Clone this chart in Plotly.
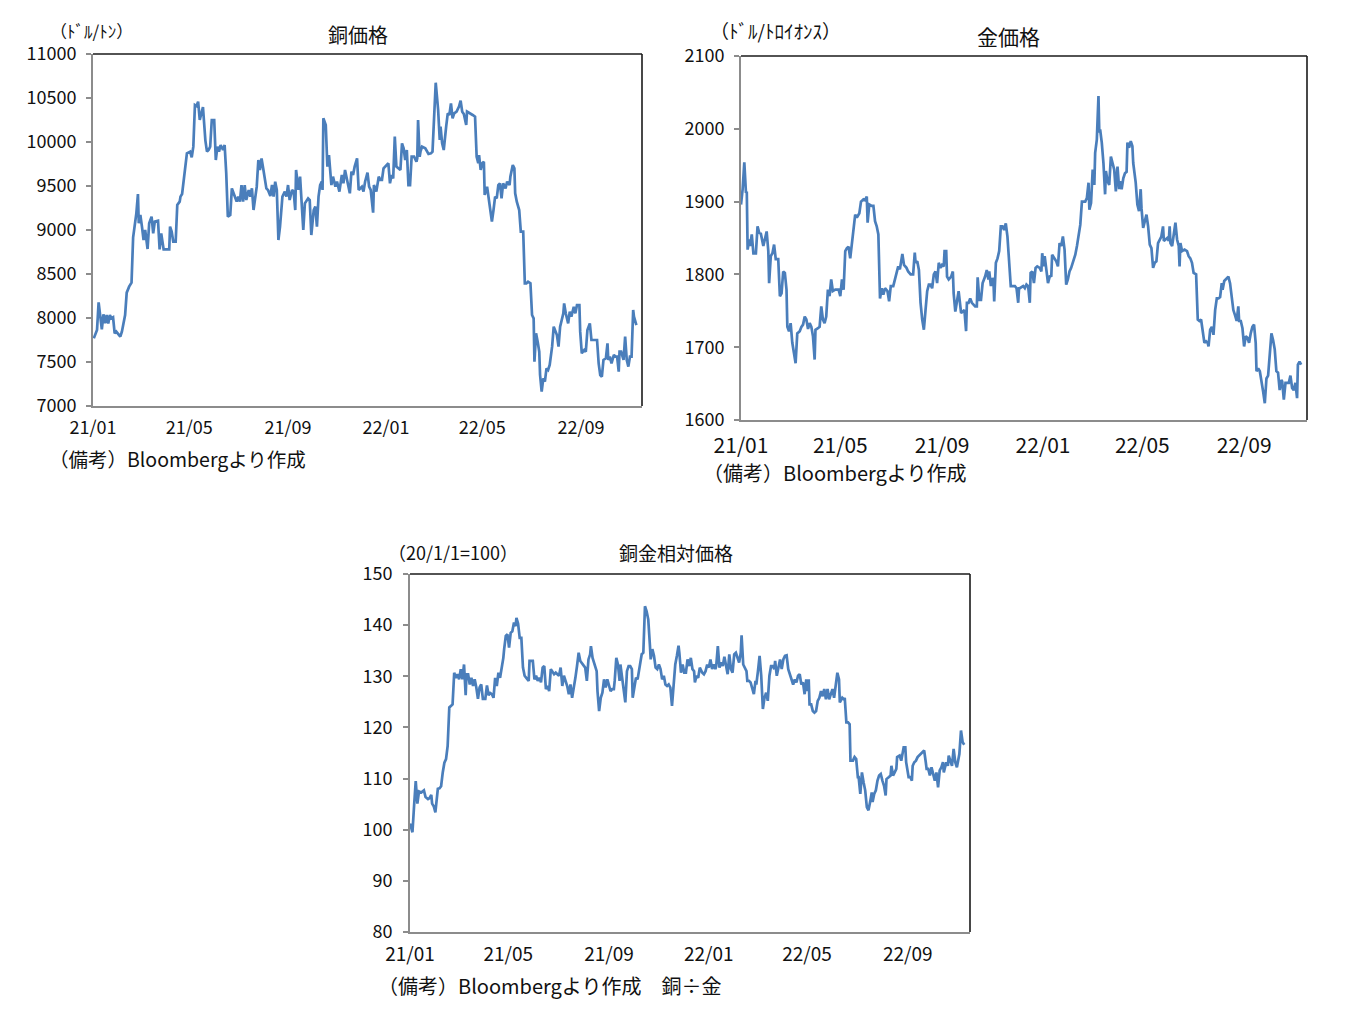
import pandas as pd
import plotly.graph_objects as go

W, H = 1358, 1009
START = pd.Timestamp("2021-01-01")

# ---- Copper price (USD/ton); days counted from 2021-01-01 ----
copper_day = [1, 5, 7, 9, 11, 13, 15, 17, 19, 21, 23, 25, 27, 29, 32, 34, 36, 38, 40, 42, 45, 48, 50, 54, 56, 57, 59, 61, 63, 65,
              68, 70, 73, 75, 77, 81, 83, 85, 88, 95, 96, 98, 100, 103, 105, 108, 109, 111, 115, 117, 121, 123, 125, 127, 129, 131,
              133, 135, 137, 140, 142, 144, 146, 148, 151, 153, 155, 157, 159, 162, 164, 166, 168, 171, 173, 176, 179, 181, 183,
              185, 187, 189, 191, 194, 196, 198, 200, 204, 206, 208, 210, 212, 216, 218, 221, 223, 225, 227, 229, 231, 233, 236,
              239, 241, 243, 245, 248, 250, 252, 253, 256, 258, 262, 264, 266, 268, 270, 272, 275, 277, 279, 281, 283, 285, 286,
              287, 290, 292, 294, 297, 299, 302, 304, 307, 310, 312, 314, 316, 320, 322, 324, 326, 329, 331, 333,
              335, 337, 339, 342, 344, 346, 349, 350, 353, 356, 358, 360, 362, 366, 368, 370, 372, 374, 376, 378, 381, 383, 385,
              387, 389, 391, 393, 395, 397, 400, 403, 404, 405, 407, 408, 410, 414, 416, 418, 421, 423, 427, 430, 432, 433, 435,
              437, 440, 442, 444, 446, 448, 450, 453, 456, 458, 460, 462, 465, 466, 470, 473, 476, 478, 480, 481, 483, 485, 487,
              488, 491, 493, 495, 497, 499, 501, 503, 505, 507, 509, 511, 514, 516, 519, 520, 523, 525, 526, 528, 531, 533, 536,
              538, 540, 542, 545, 547, 549, 550, 552, 554, 556, 557, 559, 561, 563, 565, 567, 569, 572, 574, 576, 578, 580, 582,
              584, 586, 587, 589, 592, 594, 596, 599, 601, 603, 606, 607, 609, 612, 614, 616, 619, 621, 624, 626, 628, 630, 632,
              634, 636, 639, 641, 642, 644, 646, 649, 651, 653, 655, 656, 658, 661, 663, 665, 667, 669, 671, 673, 674, 677]
copper_price = [7769, 7864, 8178, 8053, 7871, 8042, 7939, 8034, 7939, 8034, 7996, 8008, 7826, 7845, 7807, 7788, 7845, 7939, 8034,
                8288, 8356, 8401, 8917, 9189, 9409, 9076, 9170, 9038, 8886, 9000, 8784, 9076, 9152, 8962, 9095, 9106, 8780, 8962,
                8780, 8780, 9038, 8981, 8867, 8867, 9284, 9322, 9379, 9409, 9682, 9871, 9890, 9826, 9947, 10420, 10409, 10458,
                10250, 10326, 10398, 10019, 9890, 9909, 9947, 10250, 10250, 9795, 9947, 9890, 9966, 9909, 9966, 9644, 9152, 9170,
                9473, 9398, 9322, 9379, 9322, 9511, 9322, 9511, 9341, 9455, 9379, 9473, 9227, 9492, 9795, 9682, 9814, 9701, 9473,
                9455, 9386, 9511, 9379, 9549, 9455, 8886, 9038, 9379, 9436, 9379, 9511, 9341, 9455, 9436, 9227, 9682, 9455, 9606,
                9000, 9303, 9341, 9360, 9341, 8943, 9227, 9265, 9038, 9379, 9511, 9549, 9455, 10269, 10193, 9720, 9852, 9511,
                9606, 9492, 9549, 9436, 9625, 9530, 9682, 9606, 9417, 9663, 9625, 9720, 9814, 9455, 9473,
                9492, 9436, 9549, 9651, 9492, 9455, 9197, 9511, 9436, 9606, 9568, 9568, 9701, 9739, 9758, 9530, 9625, 9587, 10061,
                9720, 9701, 9682, 9985, 9928, 9795, 9909, 9511, 9511, 9833, 9833, 9776, 9814, 10250, 9833, 9890, 9947, 9928, 9890,
                9864, 9871, 9890, 10674, 10364, 10023, 10174, 9985, 9909, 10174, 10326, 10307, 10439, 10269, 10326, 10345, 10402,
                10470, 10345, 10318, 10193, 10345, 10326, 10307, 10288, 9833, 9758, 9852, 9682, 9758, 9776, 9398, 9492, 9360,
                9227, 9095, 9227, 9379, 9360, 9511, 9530, 9360, 9530, 9473, 9549, 9511, 9606, 9739, 9701, 9417, 9322, 9227, 8981,
                8981, 8394, 8394, 8413, 8394, 8034, 7996, 7504, 7826, 7731, 7617, 7352, 7163, 7314, 7277, 7428, 7409, 7466, 7674,
                7902, 7864, 7807, 7674, 7902, 7977, 8053, 8166, 8053, 7939, 8072, 8015, 8128, 8053, 8147, 8147, 7845, 7599, 7636,
                7617, 7864, 7939, 7750, 7750, 7750, 7750, 7485, 7352, 7333, 7523, 7542, 7712, 7523, 7561, 7485, 7580, 7561, 7561,
                7390, 7617, 7617, 7523, 7788, 7523, 7447, 7561, 7561, 8091, 8015, 7920]

# ---- Gold price (USD/troy ounce) ----
gold_day = [0, 2, 4, 6, 7, 8, 10, 11, 13, 15, 18, 20, 22, 24, 27, 29, 31, 33, 34, 36, 38, 40, 42, 45, 47, 49, 51, 53, 55, 56,
            58, 60, 62, 64, 66, 68, 71, 73, 75, 77, 79, 81, 83, 85, 87, 89, 90, 93, 95, 97, 99, 101, 103, 105, 107, 109, 111,
            114, 118, 120, 122, 124, 126, 128, 130, 132, 134, 136, 138, 140, 143, 145, 148, 150, 152, 153, 155, 158, 160, 162,
            164, 166, 168, 170, 172, 174, 177, 179, 181, 184, 186, 188, 190, 192, 194, 195, 197, 200, 202, 205, 208, 210, 211,
            213, 215, 217, 219, 221, 223, 225, 227, 229, 231, 233, 235, 237, 239, 241, 243, 245, 246, 248, 249, 251, 254, 256,
            257, 259, 261, 263, 266, 268, 270, 272, 273, 275, 277, 279, 281, 283, 285, 286, 288, 290, 292, 295, 297, 299, 300,
            302, 304, 305, 306, 308, 310, 312, 314, 316, 318, 320, 322, 324, 326, 329, 331, 333, 335, 336,
            337, 341, 343, 345, 347, 349, 350, 352, 354, 356, 358, 361, 363, 364, 366, 367, 369, 371, 373, 375, 376, 379, 381,
            383, 385, 387, 389, 391, 393, 395, 397, 399, 401, 404, 406, 408, 410, 412, 414, 416, 418, 420, 421, 423, 425, 427,
            428, 430, 432, 433, 434, 436, 438, 440, 441, 443, 445, 447, 449, 451, 453, 455, 457, 458, 460, 462, 464, 466, 467,
            469, 471, 473, 474, 476, 477, 479, 481, 483, 484, 486, 488, 490, 492, 494, 496, 498, 500, 502, 504, 506, 508, 510,
            511, 515, 517, 518, 519, 521, 523, 525, 527, 529, 530, 531, 533, 536, 539, 541, 543, 545, 547, 550, 552, 554, 556,
            558, 560, 562, 564, 565, 567, 569, 571, 573, 575, 577, 579, 581, 582, 584, 586, 589, 591, 593, 595, 597, 599, 601,
            602, 604, 606, 608, 610, 612, 614, 616, 618, 620, 622, 623, 625, 627, 629, 631, 633, 635, 637, 639, 641, 643, 645,
            647, 649, 651, 653, 654, 656, 658, 660, 662, 664, 666, 668, 670, 672, 673, 675, 677]
gold_price = [1896, 1917, 1954, 1912, 1914, 1834, 1848, 1839, 1855, 1829, 1829, 1866, 1857, 1856, 1839, 1852, 1859, 1832, 1788,
              1825, 1829, 1841, 1821, 1821, 1770, 1774, 1804, 1802, 1779, 1728, 1722, 1733, 1706, 1692, 1678, 1719, 1722, 1728,
              1731, 1742, 1738, 1725, 1733, 1728, 1715, 1683, 1724, 1726, 1728, 1756, 1738, 1733, 1742, 1779, 1770, 1793, 1777,
              1779, 1779, 1770, 1793, 1779, 1832, 1836, 1838, 1822, 1843, 1866, 1882, 1878, 1884, 1900, 1903, 1902, 1907, 1871,
              1896, 1894, 1894, 1873, 1866, 1855, 1767, 1781, 1772, 1781, 1777, 1763, 1784, 1784, 1793, 1804, 1811, 1807, 1820,
              1828, 1813, 1809, 1804, 1800, 1800, 1830, 1816, 1818, 1806, 1761, 1738, 1724, 1751, 1777, 1786, 1786, 1781, 1800,
              1804, 1788, 1816, 1809, 1813, 1811, 1832, 1832, 1797, 1793, 1797, 1804, 1774, 1749, 1763, 1777, 1747, 1749, 1751,
              1722, 1761, 1761, 1767, 1761, 1758, 1756, 1756, 1796, 1765, 1765, 1788, 1797, 1806, 1793, 1804, 1784, 1795, 1793,
              1763, 1816, 1822, 1832, 1866, 1866, 1861, 1870, 1852, 1820, 1784, 1784, 1784, 1781, 1761, 1781,
              1781, 1784, 1781, 1786, 1784, 1761, 1802, 1804, 1788, 1809, 1811, 1809, 1804, 1829, 1811, 1825, 1804, 1788, 1797,
              1798, 1827, 1822, 1818, 1811, 1843, 1839, 1852, 1834, 1786, 1793, 1804, 1809, 1816, 1827, 1839, 1852, 1868, 1900,
              1900, 1900, 1905, 1926, 1889, 1898, 1944, 1923, 1967, 1985, 2045, 1995, 1999, 1981, 1953, 1910, 1942, 1928, 1923,
              1962, 1953, 1944, 1914, 1948, 1917, 1928, 1917, 1932, 1939, 1941, 1981, 1974, 1983, 1976, 1953, 1939, 1926, 1896,
              1887, 1917, 1891, 1864, 1873, 1882, 1866, 1841, 1836, 1809, 1816, 1818, 1843, 1848, 1852, 1866, 1846, 1850, 1846,
              1866, 1843, 1839, 1852, 1871, 1848, 1839, 1811, 1843, 1832, 1834, 1832, 1825, 1822, 1816, 1802, 1800, 1738, 1736,
              1738, 1724, 1706, 1708, 1706, 1701, 1724, 1728, 1717, 1751, 1767, 1767, 1769, 1788, 1779, 1791, 1793, 1797, 1788,
              1769, 1751, 1744, 1736, 1756, 1736, 1736, 1726, 1701, 1715, 1713, 1706, 1719, 1728, 1731, 1706, 1667, 1671, 1667,
              1655, 1639, 1623, 1657, 1661, 1686, 1719, 1710, 1697, 1667, 1665, 1641, 1655, 1653, 1628, 1651, 1651, 1651, 1661,
              1644, 1641, 1651, 1630, 1676, 1680, 1676]

# ---- Copper / gold relative price (2020/1/1 = 100) ----
ratio_day = [0, 3, 5, 7, 9, 11, 14, 17, 19, 22, 24, 26, 27, 29, 31, 34, 36, 38, 40, 42, 44, 46, 48, 51, 52, 54, 56, 58, 60, 62,
             64, 66, 68, 69, 71, 73, 75, 77, 79, 81, 83, 85, 87, 89, 92, 94, 96, 98, 100, 102, 104, 106, 108, 110, 112, 114, 115,
             117, 119, 121, 123, 125, 127, 129, 130, 132, 134, 136, 138, 140, 142, 145, 146, 150, 152, 154, 156, 158, 160, 162,
             164, 166, 168, 170, 172, 174, 176, 178, 180, 182, 184, 186, 188, 190, 192, 194, 196, 198, 200, 202, 204, 206, 208,
             210, 212, 214, 216, 218, 220, 221, 223, 225, 228, 229, 231, 233, 235, 237, 239, 241, 243, 245, 247, 249, 250, 252,
             254, 256, 257, 259, 261, 263, 265, 267, 269, 271, 272, 274, 276, 278, 280, 282, 283, 285, 287, 289, 291, 293, 294,
             296, 298, 300, 302, 304, 306, 308, 310, 312, 314, 316, 318, 320, 322, 324, 326, 328, 329, 331, 333, 335,
             337, 339, 341, 343, 345, 347, 348, 350, 352, 354, 357, 359, 361, 363, 365, 367, 369, 371, 373, 374, 376, 378, 380,
             382, 384, 386, 388, 390, 392, 394, 396, 398, 400, 402, 404, 405, 407, 409, 411, 412, 414, 416, 418, 420, 422, 423,
             425, 427, 429, 431, 433, 435, 437, 439, 441, 443, 445, 446, 448, 450, 452, 454, 456, 458, 460, 462, 464, 466, 468,
             470, 472, 474, 476, 478, 480, 482, 484, 485, 487, 488, 490, 492, 494, 496, 498, 500, 502, 504, 506, 508, 510, 512,
             514, 516, 518, 520, 522, 524, 525, 528, 530, 531, 533, 535, 537, 538, 541, 543, 545, 547, 548, 550, 552, 554, 556,
             558, 560, 562, 564, 565, 567, 569, 571, 573, 575, 577, 579, 581, 582, 585, 587, 588, 590, 592, 594, 595, 598, 600,
             602, 603, 605, 606, 609, 611, 613, 614, 616, 618, 620, 622, 624, 626, 628, 630, 631, 633, 635, 637, 639, 641, 643,
             645, 647, 649, 651, 652, 655, 657, 658, 660, 662, 664, 666, 668, 670, 671, 673, 675, 677]
ratio_value = [101.2, 99.5, 104.7, 109.5, 105.1, 107.5, 107.3, 107.7, 106.4, 106.0, 106.2, 106.8, 105.1, 104.6, 103.4, 108.0,
               108.1, 108.5, 111.2, 113.1, 113.8, 116.4, 123.9, 124.4, 124.5, 130.7, 129.7, 130.4, 129.4, 131.4, 129.4, 132.3,
               126.3, 130.4, 130.4, 128.4, 129.7, 128.1, 129.4, 127.8, 125.6, 127.8, 128.4, 125.6, 125.6, 128.2, 126.3, 126.7,
               126.5, 125.8, 129.7, 128.1, 130.7, 129.7, 131.4, 133.6, 135.3, 137.9, 138.2, 135.6, 138.5, 138.8, 140.5, 139.8,
               141.4, 140.3, 137.5, 137.5, 131.7, 130.1, 129.7, 129.1, 133.0, 133.0, 129.4, 130.1, 129.1, 129.7, 128.8, 131.7,
               132.0, 127.5, 128.1, 127.1, 131.4, 131.0, 130.4, 130.7, 130.4, 130.1, 131.7, 128.1, 130.1, 129.1, 128.1, 126.5,
               128.4, 125.8, 127.5, 129.7, 132.0, 134.6, 133.0, 132.6, 132.3, 131.7, 129.1, 133.3, 134.3, 135.9, 133.6, 132.6,
               131.0, 127.1, 123.2, 125.8, 126.8, 129.4, 127.8, 129.4, 128.4, 127.1, 127.5, 127.5, 129.1, 133.6, 132.3, 129.1,
               132.3, 130.1, 128.1, 124.9, 131.0, 132.0, 132.0, 131.4, 125.8, 128.1, 129.7, 129.4, 131.7, 133.0, 134.3, 134.6,
               143.7, 142.7, 141.1, 136.2, 133.3, 135.3, 134.0, 131.7, 131.4, 132.3, 131.4, 129.4, 130.1, 128.4, 128.1, 128.4,
               127.8, 124.2, 128.8, 132.3, 134.0, 136.0, 134.6, 130.7, 132.3, 130.7,
               130.7, 133.3, 132.0, 133.6, 131.4, 131.0, 128.8, 130.1, 129.7, 131.7, 130.7, 130.4, 131.0, 132.3, 131.7, 133.3,
               131.4, 132.3, 131.4, 132.0, 135.9, 131.7, 132.7, 132.0, 133.8, 131.7, 130.4, 134.3, 131.4, 130.7, 134.3, 134.6,
               133.6, 132.7, 134.6, 138.0, 132.3, 131.7, 131.0, 129.1, 129.1, 128.8, 127.8, 126.5, 129.1, 128.4, 131.0, 134.0,
               130.1, 123.6, 125.8, 126.8, 125.2, 130.1, 132.0, 132.0, 131.4, 133.0, 130.1, 131.7, 133.3, 131.4, 133.3, 134.0,
               134.1, 131.4, 130.4, 129.4, 128.4, 129.4, 128.8, 130.1, 130.4, 128.4, 128.8, 126.5, 129.4, 127.1, 129.4, 124.5,
               124.5, 123.2, 122.9, 123.2, 125.2, 125.8, 127.1, 126.1, 127.5, 125.5, 127.5, 125.5, 126.8, 127.5, 125.8, 128.8,
               130.7, 129.4, 124.9, 125.8, 125.5, 125.8, 121.0, 121.0, 120.6, 113.5, 113.5, 114.2, 113.8, 110.3, 110.3, 107.0,
               111.2, 109.3, 107.7, 104.4, 103.8, 105.4, 107.3, 105.4, 107.0, 107.7, 109.6, 110.6, 110.9, 109.6, 108.6, 106.7,
               109.9, 110.3, 110.6, 112.5, 110.6, 111.2, 111.9, 114.2, 114.5, 113.5, 115.5, 116.1, 116.1, 113.2, 110.3, 110.3,
               109.6, 112.5, 113.2, 113.5, 114.2, 114.5, 114.8, 115.1, 115.5, 113.2, 111.9, 111.9, 110.6, 112.2, 110.6, 109.6,
               111.2, 108.3, 111.6, 112.2, 113.2, 111.2, 113.2, 112.5, 114.5, 113.2, 112.5, 115.8, 113.2, 112.2, 114.5, 114.8,
               119.4, 117.1, 116.6]

x_tick_start = "2021-01-01"
x_range = ["2021-01-01", "2022-11-16"]


def to_dates(days):
    return START + pd.to_timedelta(days, unit="D")


FONT = "Noto Sans CJK JP"
LINE = "#4A7EBB"
AXIS_GREY = "#8C8C8C"

fig = go.Figure()
fig.add_trace(go.Scatter(x=to_dates(copper_day), y=copper_price, mode="lines",
                         line=dict(color=LINE, width=2.7), xaxis="x", yaxis="y"))
fig.add_trace(go.Scatter(x=to_dates(gold_day), y=gold_price, mode="lines",
                         line=dict(color=LINE, width=2.7), xaxis="x2", yaxis="y2"))
fig.add_trace(go.Scatter(x=to_dates(ratio_day), y=ratio_value, mode="lines",
                         line=dict(color=LINE, width=2.7), xaxis="x3", yaxis="y3"))


def xdom(a, b):
    return [a / W, b / W]


def ydom(top, bottom):
    return [1 - bottom / H, 1 - top / H]


def xaxis(dom, anchor, size, standoff):
    return dict(domain=dom, anchor=anchor, type="date", range=x_range, tick0=x_tick_start, dtick="M4",
                tickformat="%y/%m", showgrid=False, zeroline=False, showline=True, linecolor=AXIS_GREY,
                linewidth=2, ticks="", automargin=False,
                tickfont=dict(family=FONT, size=size, color="#111"), ticklabelstandoff=standoff)


def yaxis(dom, anchor, rng, dtick, size, standoff):
    return dict(domain=dom, anchor=anchor, range=rng, dtick=dtick, showgrid=False, zeroline=False,
                showline=True, linecolor=AXIS_GREY, linewidth=2, ticks="outside", ticklen=5,
                tickcolor=AXIS_GREY, tickwidth=1.5, tickformat="d", automargin=False,
                tickfont=dict(family=FONT, size=size, color="#111"), ticklabelstandoff=standoff)


layout = dict(
    template="none",
    width=W, height=H, margin=dict(l=0, r=0, t=0, b=0, pad=0), paper_bgcolor="white", plot_bgcolor="white",
    showlegend=False,
    xaxis=xaxis(xdom(93, 642), "y", 18, 4),
    yaxis=yaxis(ydom(54, 406), "x", [7000, 11000], 500, 18, 6),
    xaxis2=xaxis(xdom(741, 1307), "y2", 21, 6),
    yaxis2=yaxis(ydom(56, 420), "x2", [1600, 2100], 100, 18, 6),
    xaxis3=xaxis(xdom(410, 970), "y3", 19, 4),
    yaxis3=yaxis(ydom(574, 932), "x3", [80, 150], 10, 18, 7),
)

shapes = []
for xa, ya in [("x", "y"), ("x2", "y2"), ("x3", "y3")]:
    shapes.append(dict(type="line", xref=f"{xa} domain", yref=f"{ya} domain", x0=0, x1=1, y0=1, y1=1,
                       line=dict(color="#1A1A1A", width=1.6)))
    shapes.append(dict(type="line", xref=f"{xa} domain", yref=f"{ya} domain", x0=1, x1=1, y0=0, y1=1,
                       line=dict(color="#1A1A1A", width=1.6)))
layout["shapes"] = shapes


def ann(text, x, y, size, xanchor="center"):
    return dict(text=text, x=x / W, y=1 - y / H, xref="paper", yref="paper", xanchor=xanchor,
                yanchor="middle", showarrow=False, font=dict(family=FONT, size=size, color="#111"))


layout["annotations"] = [
    ann("銅価格", 358, 34, 20),
    ann("（ﾄﾞﾙ/ﾄﾝ）", 91, 31, 17),
    ann("（備考）Bloombergより作成", 47, 458, 19.5, "left"),
    ann("金価格", 1008, 36, 21),
    ann("（ﾄﾞﾙ/ﾄﾛｲｵﾝｽ）", 775, 31, 19),
    ann("（備考）Bloombergより作成", 701, 473, 20, "left"),
    ann("銅金相対価格", 676, 552, 19),
    ann("（20/1/1=100）", 453, 552, 18),
    ann("（備考）Bloombergより作成　銅÷金", 376, 985, 20, "left"),
]

fig.update_layout(**layout)
fig.write_html("out.html")
